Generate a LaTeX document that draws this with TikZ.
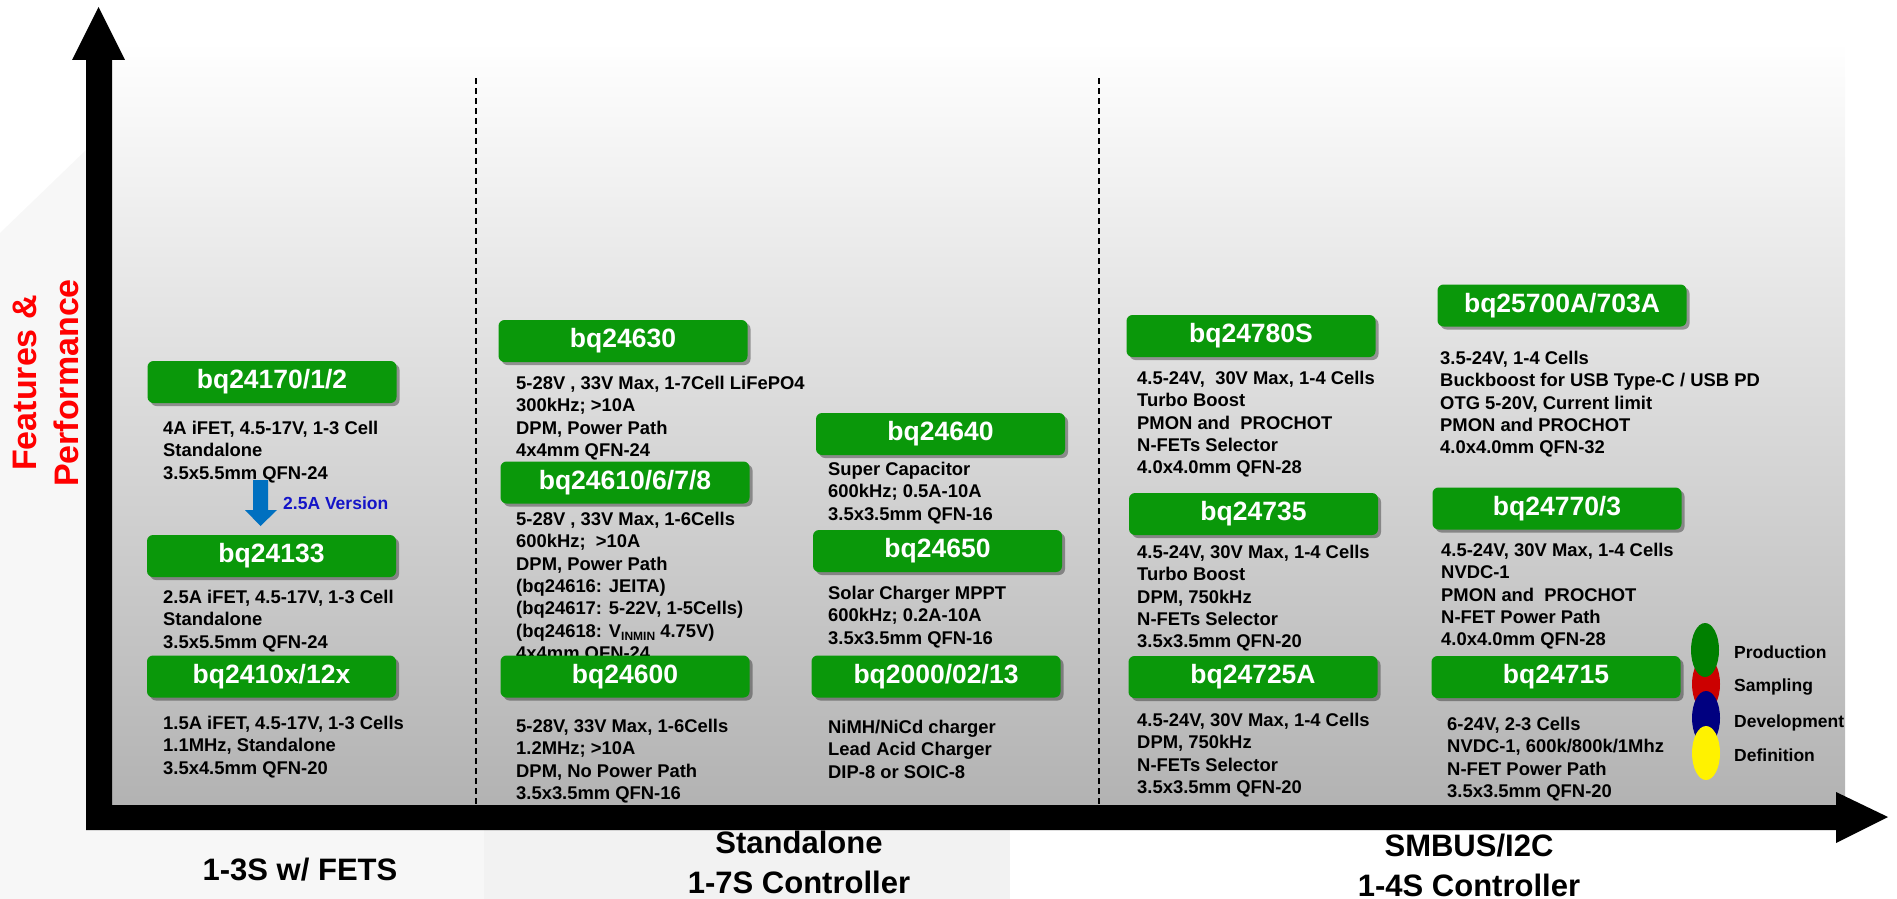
\documentclass[tikz,border=0pt]{standalone}
\usepackage{fontspec}
\setmainfont{Liberation Sans}
\usetikzlibrary{shadows}
\definecolor{chipgreen}{RGB}{10,152,10}
\definecolor{versionblue}{RGB}{0,112,192}
\definecolor{versiontext}{RGB}{20,20,200}
\definecolor{legred}{RGB}{204,0,0}
\definecolor{legnavy}{RGB}{0,0,128}
\definecolor{leggreen}{RGB}{0,128,0}
\tikzset{
  chip/.style={rectangle, rounded corners=6pt, fill=chipgreen, inner sep=0pt,
    minimum width=249pt, minimum height=42pt, text=white,
    font=\fontsize{26.5}{30}\selectfont\bfseries,
    drop shadow={shadow xshift=3pt, shadow yshift=-3pt, fill=black, opacity=0.35}},
  specs/.style={anchor=north west, inner sep=0pt, align=left,
    font=\fontsize{18.4}{22.3}\selectfont\bfseries},
  legendtext/.style={anchor=west, inner sep=0pt, font=\fontsize{17.5}{21}\selectfont\bfseries},
  axislabel/.style={inner sep=0pt, align=center, font=\fontsize{31}{40}\selectfont\bfseries}
}
\newcommand{\chip}[4]{\node[chip] (#1) at ( #2 , #3 ) {#4};}
\newcommand{\specs}[4]{\node[specs] (#1) at ( #2 , #3 ) {#4};}

\begin{document}
\begin{tikzpicture}[x=1pt,y=-1pt]
            \useasboundingbox (0,0) rectangle (1897,899);
            % background
            \fill[black!3] (0,233) -- (86,150) -- (86,899) -- (0,899) -- cycle;
            \fill[black!3] (86,830) rectangle (484,899);
            \fill[black!5] (484,830) rectangle (1010,899);
            \shade[top color=white, bottom color=black!30] (112,42) rectangle (1845,805);

            % dividers
            \draw[line width=1.5pt, dash pattern=on 6pt off 4pt] (476,78) -- (476,805);
            \draw[line width=1.5pt, dash pattern=on 6pt off 4pt] (1099,78) -- (1099,805);

            % 1-3S w/ FETS
            \specs{s24170}{163}{421}{4A iFET, 4.5-17V, 1-3 Cell\\Standalone\\3.5x5.5mm QFN-24}
            \specs{s24133}{163}{590}{2.5A iFET, 4.5-17V, 1-3 Cell\\Standalone\\3.5x5.5mm QFN-24}
            \specs{s2410x}{163}{716}{1.5A iFET, 4.5-17V, 1-3 Cells\\1.1MHz, Standalone\\3.5x4.5mm QFN-20}
            % standalone
            \specs{s24630}{516}{376}{5-28V , 33V Max, 1-7Cell LiFePO4\\300kHz; >10A\\DPM, Power Path\\4x4mm QFN-24}
            \specs{s24610}{516}{512}{5-28V , 33V Max, 1-6Cells\\600kHz;\ \ >10A\\DPM, Power Path\\(bq24616: JEITA)\\(bq24617: 5-22V, 1-5Cells)\\(bq24618: V\raisebox{-3.5pt}{\fontsize{12}{12}\selectfont INMIN} 4.75V)\\4x4mm QFN-24}
            \specs{s24600}{516}{719}{5-28V, 33V Max, 1-6Cells\\1.2MHz; >10A\\DPM, No Power Path\\3.5x3.5mm QFN-16}
            \specs{s24640}{828}{462}{Super Capacitor\\600kHz; 0.5A-10A\\3.5x3.5mm QFN-16}
            \specs{s24650}{828}{586}{Solar Charger MPPT\\600kHz; 0.2A-10A\\3.5x3.5mm QFN-16}
            \specs{s2000}{828}{720}{NiMH/NiCd charger\\Lead Acid Charger\\DIP-8 or SOIC-8}
            % SMBus
            \specs{s24780}{1137}{371}{4.5-24V,\ \ 30V Max, 1-4 Cells\\Turbo Boost\\PMON and\ \ PROCHOT\\N-FETs Selector\\4.0x4.0mm QFN-28}
            \specs{s24735}{1137}{545}{4.5-24V, 30V Max, 1-4 Cells\\Turbo Boost\\DPM, 750kHz\\N-FETs Selector\\3.5x3.5mm QFN-20}
            \specs{s24725}{1137}{713}{4.5-24V, 30V Max, 1-4 Cells\\DPM, 750kHz\\N-FETs Selector\\3.5x3.5mm QFN-20}
            \specs{s25700}{1440}{351}{3.5-24V, 1-4 Cells\\Buckboost for USB Type-C / USB PD\\OTG 5-20V, Current limit\\PMON and PROCHOT\\4.0x4.0mm QFN-32}
            \specs{s24770}{1441}{543}{4.5-24V, 30V Max, 1-4 Cells\\NVDC-1\\PMON and\ \ PROCHOT\\N-FET Power Path\\4.0x4.0mm QFN-28}
            \specs{s24715}{1447}{717}{6-24V, 2-3 Cells\\NVDC-1, 600k/800k/1Mhz\\N-FET Power Path\\3.5x3.5mm QFN-20}

            % chips
            \chip{c24170}{272}{382}{bq24170/1/2}
            \chip{c24133}{271.5}{556}{bq24133}
            \chip{c2410x}{271.5}{676.5}{bq2410x/12x}
            \chip{c24630}{623}{341}{bq24630}
            \chip{c24610}{625}{482.5}{bq24610/6/7/8}
            \chip{c24600}{625}{676.5}{bq24600}
            \chip{c24640}{940.5}{434}{bq24640}
            \chip{c24650}{937.5}{551}{bq24650}
            \chip{c2000}{936}{676.5}{bq2000/02/13}
            \chip{c24780}{1251}{336}{bq24780S}
            \chip{c24735}{1253.5}{514}{bq24735}
            \chip{c24725}{1253}{677}{bq24725A}
            \chip{c25700}{1562}{305.5}{bq25700A/703A}
            \chip{c24770}{1557}{508.5}{bq24770/3}
            \chip{c24715}{1556}{677}{bq24715}

            % 2.5A version
            \fill[versionblue] (253,480) -- (268,480) -- (268,510) -- (277,510) -- (260.5,526)
                -- (245,510) -- (253,510) -- cycle;
            \node[anchor=west, inner sep=0pt, text=versiontext, font=\fontsize{17.5}{20}\selectfont\bfseries]
                (ver) at (283,503) {2.5A Version};

            % axes
            \fill (86,60) -- (72,60) -- (98.5,7) -- (125,60) -- (112,60) -- (112,805) -- (1836,805)
                -- (1836,792) -- (1888,817) -- (1836,843) -- (1836,830) -- (86,830) -- cycle;

            % legend
            \fill[legred] (1706,684) ellipse [x radius=14, y radius=27];
            \fill[leggreen] (1705,650) ellipse [x radius=14, y radius=27];
            \fill[legnavy] (1706,718) ellipse [x radius=14, y radius=27];
            \fill[yellow] (1706,753) ellipse [x radius=14, y radius=27];
            \node[legendtext] (prod) at (1734,652) {Production};
            \node[legendtext] (samp) at (1734,687) {Sampling};
            \node[legendtext] (dev) at (1734,723) {Development};
            \node[legendtext] (defn) at (1734,755) {Definition};

            % axis labels
            \node[axislabel, rotate=90, text=red, font=\fontsize{34}{42}\selectfont\bfseries]
                (perf) at (46,383) {Features \&\\Performance};
            \node[axislabel] (fets) at (300,870) {1-3S w/ FETS};
            \node[axislabel] (stand) at (799,862) {Standalone\\1-7S Controller};
            \node[axislabel] (smbus) at (1469,865) {SMBUS/I2C\\1-4S Controller};
        \end{tikzpicture}
\end{document}
